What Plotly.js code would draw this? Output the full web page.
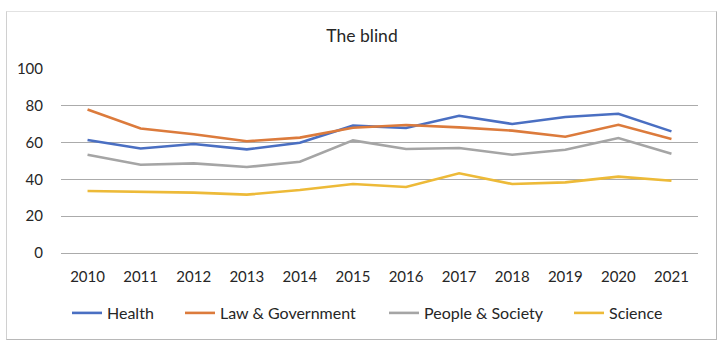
<!DOCTYPE html>
<html>
<head>
<meta charset="utf-8">
<script src="https://cdn.plot.ly/plotly-3.0.1.min.js"></script>
<style>
  html, body { margin: 0; padding: 0; background: #fff; }
  #wrap { position: relative; width: 725px; height: 351px; }
  #chart { width: 725px; height: 351px; }
  #frame { position: absolute; left: 6px; top: 11px; width: 709px; height: 327px;
           border: 1px solid #d0d0d0; border-top-color: #e2e2e2; border-right-color: #b8b8b8; border-bottom-color: #b8b8b8;
           pointer-events: none; }
</style>
</head>
<body>
<div id="wrap">
  <div id="chart"></div>
  <div id="frame"></div>
</div>
<script>
const years = ['2010','2011','2012','2013','2014','2015','2016','2017','2018','2019','2020','2021'];
const health = [61.4, 56.8, 59.2, 56.3, 59.9, 69.2, 67.9, 74.6, 70.1, 73.9, 75.7, 66.1];
const lawGovernment = [78.0, 67.7, 64.5, 60.7, 62.7, 68.1, 69.6, 68.3, 66.5, 63.2, 69.7, 62.0];
const peopleSociety = [53.4, 48.0, 48.7, 46.7, 49.6, 61.2, 56.5, 57.1, 53.4, 56.1, 62.5, 54.0];
const science = [33.7, 33.2, 32.8, 31.7, 34.2, 37.5, 35.9, 43.3, 37.5, 38.4, 41.5, 39.3];
const seriesNames = ['Health', 'Law & Government', 'People & Society', 'Science'];
const yTicks = [0, 20, 40, 60, 80, 100];

const colors = ['#4A6FC2', '#DC7B3C', '#A5A5A5', '#EDBA38'];
const seriesValues = [health, lawGovernment, peopleSociety, science];
const legendIds = ['legend', 'legend2', 'legend3', 'legend4'];
const legendLeftPx = [67, 180, 384, 569];

const traces = seriesValues.map((vals, i) => ({
  type: 'scatter',
  mode: 'lines',
  x: years,
  y: vals,
  name: seriesNames[i],
  legend: legendIds[i],
  line: { color: colors[i], width: 2.6 },
  hoverinfo: 'x+y+name'
}));

const font = "Lato, 'Open Sans', 'DejaVu Sans', sans-serif";
const textColor = '#262626';

const layout = {
  width: 725,
  height: 351,
  margin: { l: 61, r: 27, t: 69, b: 98 },
  paper_bgcolor: '#ffffff',
  plot_bgcolor: '#ffffff',
  font: { family: font, size: 15, color: textColor },
  title: {
    text: 'The blind',
    font: { family: font, size: 17.5, color: textColor },
    x: 362 / 725, xanchor: 'center', xref: 'container',
    y: 1 - 36 / 351, yanchor: 'middle', yref: 'container'
  },
  showlegend: true,
  xaxis: {
    type: 'category',
    range: [-0.5, years.length - 0.5],
    showgrid: false,
    zeroline: false,
    showline: false,
    ticks: 'outside',
    ticklen: 10,
    tickcolor: 'rgba(0,0,0,0)',
    tickfont: { family: font, size: 15, color: textColor },
    fixedrange: true
  },
  yaxis: {
    range: [0, 100],
    tickvals: yTicks,
    ticktext: yTicks.map(String),
    showgrid: true,
    gridcolor: '#ababab',
    gridwidth: 1,
    zeroline: true,
    zerolinecolor: '#ababab',
    zerolinewidth: 1,
    showline: false,
    ticks: 'outside',
    ticklen: 14,
    tickcolor: 'rgba(0,0,0,0)',
    tickfont: { family: font, size: 15, color: textColor },
    fixedrange: true
  }
};

legendIds.forEach((id, i) => {
  layout[id] = {
    orientation: 'h',
    x: legendLeftPx[i] / 725, xref: 'container', xanchor: 'left',
    y: 1 - 313 / 351, yref: 'container', yanchor: 'middle',
    bgcolor: 'rgba(0,0,0,0)',
    borderwidth: 0,
    font: { family: font, size: 16, color: textColor }
  };
});

Plotly.newPlot('chart', traces, layout, { displayModeBar: false, staticPlot: true });
</script>
</body>
</html>
